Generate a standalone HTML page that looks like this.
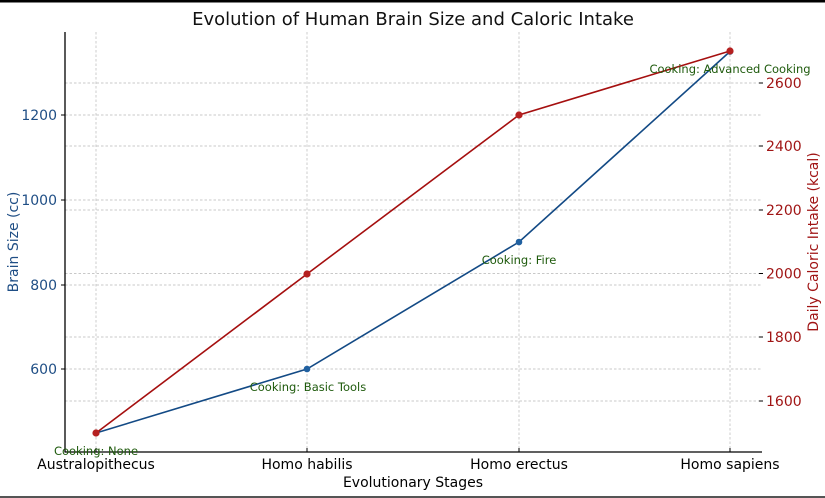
<!DOCTYPE html>
<html><head><style>body{margin:0;background:#fff}svg{display:block;font-family:"DejaVu Sans","Liberation Sans",sans-serif}</style></head>
<body>
<svg width="825" height="498" viewBox="0 0 825 498">
<rect x="0" y="0" width="825" height="2.5" fill="#000"/>
<rect x="0" y="496" width="825" height="2" fill="#555"/>
<text x="413" y="25" text-anchor="middle" font-size="18" fill="#111">Evolution of Human Brain Size and Caloric Intake</text>
<g stroke="#c8c8c8" stroke-width="0.9" stroke-dasharray="2.5,2">
<line x1="96" y1="32" x2="96" y2="452"/><line x1="307" y1="32" x2="307" y2="452"/><line x1="519" y1="32" x2="519" y2="452"/><line x1="730" y1="32" x2="730" y2="452"/>
<line x1="65" y1="369" x2="762" y2="369"/><line x1="65" y1="285" x2="762" y2="285"/><line x1="65" y1="200" x2="762" y2="200"/><line x1="65" y1="115" x2="762" y2="115"/>
<line x1="65" y1="401" x2="762" y2="401"/><line x1="65" y1="337" x2="762" y2="337"/><line x1="65" y1="273.5" x2="762" y2="273.5"/><line x1="65" y1="210" x2="762" y2="210"/><line x1="65" y1="146" x2="762" y2="146"/><line x1="65" y1="83" x2="762" y2="83"/>
</g>
<line x1="65" y1="32" x2="65" y2="452.5" stroke="#000" stroke-width="1.3"/>
<line x1="65" y1="452" x2="762" y2="452" stroke="#000" stroke-width="1.3"/>
<g stroke="#000"><line x1="96" y1="452" x2="96" y2="448"/><line x1="307" y1="452" x2="307" y2="448"/><line x1="519" y1="452" x2="519" y2="448"/><line x1="730" y1="452" x2="730" y2="448"/>
<line x1="61" y1="369" x2="65" y2="369"/><line x1="61" y1="285" x2="65" y2="285"/><line x1="61" y1="200" x2="65" y2="200"/><line x1="61" y1="115" x2="65" y2="115"/>
<line x1="759" y1="401" x2="763" y2="401"/><line x1="759" y1="337" x2="763" y2="337"/><line x1="759" y1="273.5" x2="763" y2="273.5"/><line x1="759" y1="210" x2="763" y2="210"/><line x1="759" y1="146" x2="763" y2="146"/><line x1="759" y1="83" x2="763" y2="83"/></g>
<g font-size="14" fill="#1f4e85" text-anchor="end"><text x="57" y="374">600</text><text x="57" y="290">800</text><text x="57" y="205">1000</text><text x="57" y="120">1200</text></g>
<g font-size="14" fill="#a01515"><text x="766" y="406">1600</text><text x="766" y="342">1800</text><text x="766" y="278.5">2000</text><text x="766" y="215">2200</text><text x="766" y="151">2400</text><text x="766" y="88">2600</text></g>
<g font-size="14" fill="#000" text-anchor="middle"><text x="96" y="469">Australopithecus</text><text x="307" y="469">Homo habilis</text><text x="519" y="469">Homo erectus</text><text x="730" y="469">Homo sapiens</text></g>
<text x="413" y="487" text-anchor="middle" font-size="14" fill="#000">Evolutionary Stages</text>
<text transform="translate(18,242) rotate(-90)" text-anchor="middle" font-size="14" fill="#1f4e85">Brain Size (cc)</text>
<text transform="translate(818,242) rotate(-90)" text-anchor="middle" font-size="14" fill="#a01515">Daily Caloric Intake (kcal)</text>
<polyline points="96,433 307,369 519,242 730,51.5" fill="none" stroke="#134a85" stroke-width="1.6"/>
<g fill="#2060a0"><circle cx="96" cy="433" r="3.3"/><circle cx="307" cy="369" r="3.3"/><circle cx="519" cy="242" r="3.3"/><circle cx="730" cy="51.5" r="3.3"/></g>
<polyline points="96,433 307,274 519,115 730,51" fill="none" stroke="#a50f0f" stroke-width="1.6"/>
<g fill="#b52020"><circle cx="96" cy="433" r="3.6"/><circle cx="307" cy="274" r="3.6"/><circle cx="519" cy="115" r="3.6"/><circle cx="730" cy="51" r="3.6"/></g>
<g font-size="11.5" fill="#1e5a0c" text-anchor="middle"><text x="96" y="455">Cooking: None</text><text x="308" y="391">Cooking: Basic Tools</text><text x="519" y="264">Cooking: Fire</text><text x="730" y="73">Cooking: Advanced Cooking</text></g>
</svg>
</body></html>
